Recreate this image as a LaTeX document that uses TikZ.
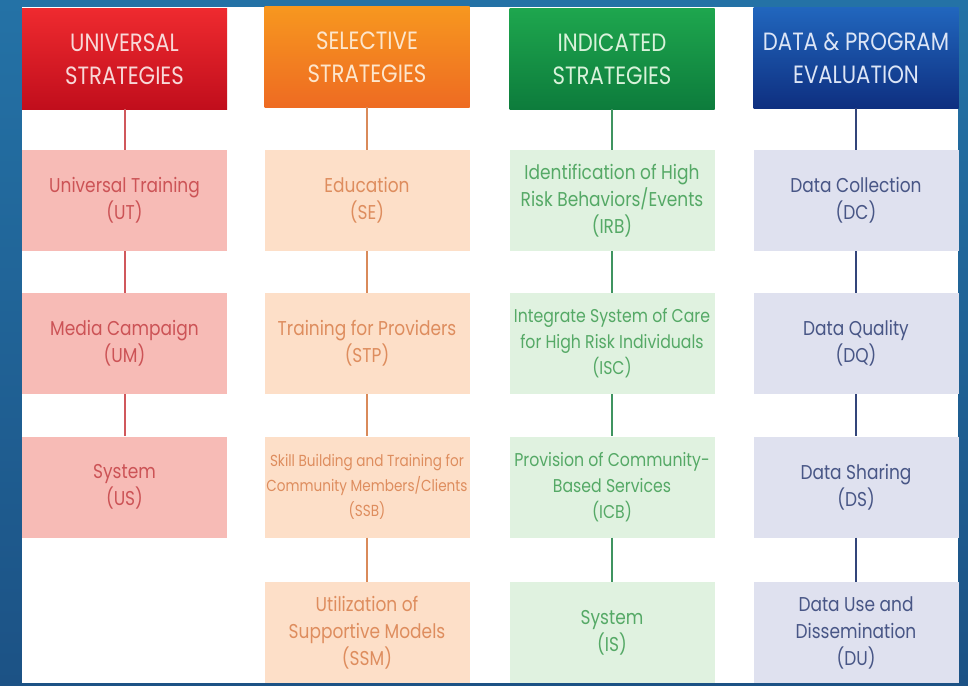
\documentclass[tikz,border=0pt]{standalone}
\usepackage{fontspec}
\setmainfont{Poppins}[FakeStretch=0.85]
\definecolor{bgtop}{HTML}{2472A6}
\definecolor{bgbot}{HTML}{1C5285}
% column 1: universal (red)
\definecolor{redtop}{HTML}{EE2A2F}
\definecolor{redbot}{HTML}{C10E1C}
\definecolor{redtxt}{HTML}{F8D8D8}
\definecolor{redbox}{HTML}{F7BBB6}
\definecolor{redink}{HTML}{CC5356}
\definecolor{redline}{HTML}{D0585C}
% column 2: selective (orange)
\definecolor{ortop}{HTML}{F7971F}
\definecolor{orbot}{HTML}{EE6B22}
\definecolor{ortxt}{HTML}{FDE6CC}
\definecolor{orbox}{HTML}{FDDFC8}
\definecolor{orink}{HTML}{DE8D5E}
\definecolor{orline}{HTML}{D98A5A}
% column 3: indicated (green)
\definecolor{grtop}{HTML}{1EA64E}
\definecolor{grbot}{HTML}{0D7C3C}
\definecolor{grtxt}{HTML}{D8F2DA}
\definecolor{grbox}{HTML}{E0F2E0}
\definecolor{grink}{HTML}{55A966}
\definecolor{grline}{HTML}{3F9460}
% column 4: data & evaluation (blue)
\definecolor{bltop}{HTML}{2166BD}
\definecolor{blbot}{HTML}{0E2F80}
\definecolor{bltxt}{HTML}{DCE5F6}
\definecolor{blbox}{HTML}{DFE1EF}
\definecolor{blink}{HTML}{485686}
\definecolor{blline}{HTML}{33457A}
\begin{document}
\begin{tikzpicture}[x=1pt,y=-1pt,
  hdr/.style={minimum width=205pt, minimum height=100pt, inner sep=0pt,
    align=center, font=\fontsize{25}{33}\selectfont},
  cell/.style={minimum width=205pt, minimum height=101pt, inner sep=0pt,
    align=center, font=\fontsize{20}{27}\selectfont},
  tight/.style={font=\fontsize{18.5}{26}\selectfont},
  tiny/.style={font=\fontsize{16}{25}\selectfont},
  h1/.style={hdr, top color=redtop, bottom color=redbot, text=redtxt},
  h2/.style={hdr, top color=ortop, bottom color=orbot, text=ortxt},
  h3/.style={hdr, top color=grtop, bottom color=grbot, text=grtxt},
  h4/.style={hdr, top color=bltop, bottom color=blbot, text=bltxt},
  c1/.style={cell, fill=redbox, text=redink},
  c2/.style={cell, fill=orbox, text=orink},
  c3/.style={cell, fill=grbox, text=grink},
  c4/.style={cell, fill=blbox, text=blink},
  l1/.style={draw=redline, line width=2pt},
  l2/.style={draw=orline, line width=2pt},
  l3/.style={draw=grline, line width=2pt},
  l4/.style={draw=blline, line width=2pt}]
\useasboundingbox (0,0) rectangle (968,685);
% backdrop and white panel
\shade[top color=bgtop, bottom color=bgbot] (0,0) rectangle (968,685);
\fill[white] (22,7) rectangle (958,683);

% headers
\node[h1] (u0) at (124.5,59) {UNIVERSAL\\STRATEGIES};
\node[h2] (s0) at (367,57) {SELECTIVE\\STRATEGIES};
\node[h3] (i0) at (612,59) {INDICATED\\STRATEGIES};
\node[h4] (d0) at (856,58) {DATA \& PROGRAM\\EVALUATION};

% universal strategies
\node[c1] (u1) at (124.5,200.5) {Universal Training\\(UT)};
\node[c1] (u2) at (124.5,343.5) {Media Campaign\\(UM)};
\node[c1] (u3) at (124.5,487) {System\\(US)};

% selective strategies
\node[c2] (s1) at (367,200.5) {Education\\(SE)};
\node[c2] (s2) at (367,343.5) {Training for Providers\\(STP)};
\node[c2, tiny] (s3) at (367,487) {Skill Building and Training for\\Community Members/Clients\\(SSB)};
\node[c2] (s4) at (367,632.5) {Utilization of\\Supportive Models\\(SSM)};

% indicated strategies
\node[c3] (i1) at (612,200.5) {Identification of High\\Risk Behaviors/Events\\(IRB)};
\node[c3, tight] (i2) at (612,343.5) {Integrate System of Care\\for High Risk Individuals\\(ISC)};
\node[c3, tight] (i3) at (612,487) {Provision of Community-\\Based Services\\(ICB)};
\node[c3] (i4) at (612,632.5) {System\\(IS)};

% data & program evaluation
\node[c4] (d1) at (856,200.5) {Data Collection\\(DC)};
\node[c4] (d2) at (856,343.5) {Data Quality\\(DQ)};
\node[c4] (d3) at (856,487) {Data Sharing\\(DS)};
\node[c4] (d4) at (856,632.5) {Data Use and\\Dissemination\\(DU)};

% connectors
\draw[l1] (u0) -- (u1);
\draw[l1] (u1) -- (u2);
\draw[l1] (u2) -- (u3);
\draw[l2] (s0) -- (s1);
\draw[l2] (s1) -- (s2);
\draw[l2] (s2) -- (s3);
\draw[l2] (s3) -- (s4);
\draw[l3] (i0) -- (i1);
\draw[l3] (i1) -- (i2);
\draw[l3] (i2) -- (i3);
\draw[l3] (i3) -- (i4);
\draw[l4] (d0) -- (d1);
\draw[l4] (d1) -- (d2);
\draw[l4] (d2) -- (d3);
\draw[l4] (d3) -- (d4);
\end{tikzpicture}
\end{document}
